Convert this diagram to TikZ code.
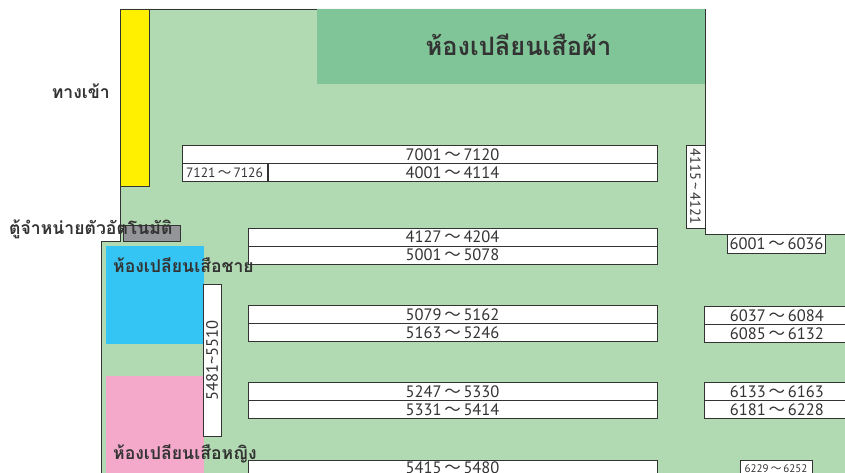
\documentclass[tikz,border=0pt]{standalone}
\usepackage{fontspec}
\setmainfont{PT Sans}
\newfontfamily\thaifont[Script=Thai]{Loma}
\newfontfamily\cjk{Noto Sans CJK JP}
\usepackage{tikz}

\definecolor{floorgreen}{HTML}{B2DAB2}
\definecolor{roomgreen}{HTML}{80C597}
\definecolor{entryyellow}{HTML}{FFF000}
\definecolor{menblue}{HTML}{35C5F4}
\definecolor{womenpink}{HTML}{F4A9CB}
\definecolor{vendgray}{HTML}{939598}
\definecolor{inkgray}{HTML}{333333}
\newcommand{\wave}{{\cjk\,〜\,}}
\tikzset{
	shelf/.style={draw=inkgray, fill=white, line width=0.8pt, inner sep=0pt, text=inkgray, font=\fontsize{16.5}{16.5}\selectfont, minimum height=18pt},
	wall/.style={draw=inkgray, line width=0.8pt},
	thailabel/.style={text=inkgray, inner sep=0pt, font=\thaifont\bfseries\fontsize{17.6}{18}\selectfont}
}

\begin{document}
\begin{tikzpicture}[x=1pt,y=-1pt]
	\useasboundingbox (0,0) rectangle (845,473);
	\clip (0,0) rectangle (845,473);
	% floor and rooms
	\draw[wall, fill=floorgreen] (120.5,9) -- (705,9) -- (705,234) -- (850,234) -- (850,480) -- (101.5,480) -- (101.5,241) -- (120.5,241) -- cycle;
	\fill[roomgreen] (317,9) rectangle (705,84);
	\draw[wall, fill=entryyellow] (120.5,9) rectangle (149.5,186);
	\fill[menblue] (106,246) rectangle (204,344);
	\fill[womenpink] (106,375.5) rectangle (204,480);
	\node[draw=inkgray, fill=vendgray, line width=0.8pt, inner sep=0pt, minimum width=57.5pt, minimum height=16pt] (vending) at (152,233.5) {};
	% upper shelves
	\node[shelf, minimum width=475pt] (s7001) at (419.5,154.5) {\hspace*{66pt}7001\wave 7120};
	\node[shelf, minimum width=389pt] (s4001) at (462.5,172.5) {\hspace*{-20pt}4001\wave 4114};
	\node[shelf, font=\fontsize{13.5}{13.5}\selectfont, minimum width=85pt] (s7121) at (224.5,172.5) {7121\wave 7126};
	\node[shelf, minimum width=409pt] (s4127) at (452.5,237) {4127\wave 4204};
	\node[shelf, minimum width=409pt] (s5001) at (452.5,255) {5001\wave 5078};
	% middle shelves
	\node[shelf, minimum width=409pt] (s5079) at (452.5,314.5) {5079\wave 5162};
	\node[shelf, minimum width=409pt] (s5163) at (452.5,332.5) {5163\wave 5246};
	\node[shelf, minimum width=409pt] (s5247) at (452.5,391.5) {5247\wave 5330};
	\node[shelf, minimum width=409pt] (s5331) at (452.5,409.5) {5331\wave 5414};
	\node[shelf, minimum width=409pt] (s5415) at (452.5,469) {\raisebox{2pt}{5415\wave 5480}};
	% right shelves
	\node[shelf, minimum width=97.5pt, minimum height=19pt] (s6001) at (776.5,243.5) {6001\wave 6036};
	\node[shelf, minimum width=146pt, anchor=west] (s6037) at (703.5,315.5) {6037\wave 6084};
	\node[shelf, minimum width=146pt, anchor=west] (s6085) at (703.5,333.5) {6085\wave 6132};
	\node[shelf, minimum width=146pt, anchor=west] (s6133) at (703.5,391.5) {6133\wave 6163};
	\node[shelf, minimum width=146pt, anchor=west] (s6181) at (703.5,409.5) {6181\wave 6228};
	\node[shelf, font=\fontsize{11}{11}\selectfont, minimum width=72pt] (s6229) at (776,469) {\raisebox{1pt}{6229\wave 6252}};
	% side shelves
	\node[shelf, font=\fontsize{14.5}{14.5}\selectfont, rotate=-90, minimum width=83pt, minimum height=19pt] (s4115) at (695.5,186.5) {4115\,\textasciitilde\,4121};
	\node[shelf, rotate=90, minimum width=151.5pt, minimum height=18.5pt] (s5481) at (212.2,360.2) {5481\textasciitilde 5510};
	% labels
	\node[thailabel, font=\thaifont\bfseries\fontsize{25.4}{26}\selectfont] (changing) at (518.5,45) {ห้องเปลียนเสือผ้า};
	\node[thailabel, anchor=east] (entrance) at (110,91) {ทางเข้า};
	\node[thailabel, anchor=west] (vendlabel) at (9,229) {ตู้จำหน่ายตัวอัตโนมัติ};
	\node[thailabel, anchor=west] (menlabel) at (113,265) {ห้องเปลียนเสือชาย};
	\node[thailabel, anchor=west] (womenlabel) at (113,454) {ห้องเปลียนเสือหญิง};
\end{tikzpicture}
\end{document}
